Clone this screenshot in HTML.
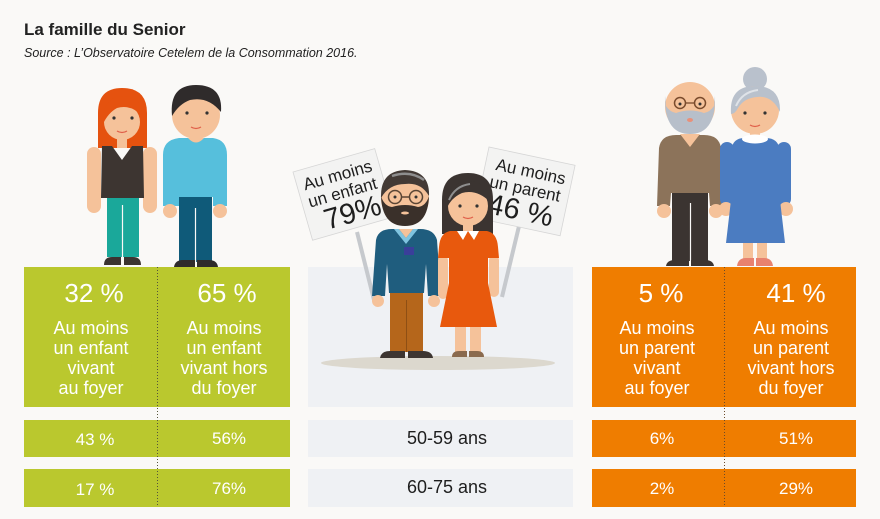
<!DOCTYPE html>
<html><head><meta charset="utf-8"><style>
html,body{margin:0;padding:0;background:#faf9f7;}
svg{display:block;}
text{font-family:"Liberation Sans",sans-serif;}
</style></head><body>
<svg width="880" height="519" viewBox="0 0 880 519" xmlns="http://www.w3.org/2000/svg">
<rect width="880" height="519" fill="#faf9f7"/>
<text x="24" y="35" font-size="17" font-weight="bold" fill="#222">La famille du Senior</text>
<text x="24" y="57" font-size="12.5" font-style="italic" fill="#222">Source : L’Observatoire Cetelem de la Consommation 2016.</text>

<!-- blocks -->
<rect x="24" y="267" width="266" height="140" fill="#bac82e"/>
<rect x="24" y="420" width="266" height="37" fill="#bac82e"/>
<rect x="24" y="469" width="266" height="38" fill="#bac82e"/>
<rect x="308" y="267" width="265" height="140" fill="#eff1f4"/>
<rect x="308" y="420" width="265" height="37" fill="#eff1f4"/>
<rect x="308" y="469" width="265" height="38" fill="#eff1f4"/>
<rect x="592" y="267" width="264" height="140" fill="#ef7d00"/>
<rect x="592" y="420" width="264" height="37" fill="#ef7d00"/>
<rect x="592" y="469" width="264" height="38" fill="#ef7d00"/>
<line x1="157.5" y1="267" x2="157.5" y2="507" stroke="#55553a" stroke-width="1" stroke-dasharray="1,2"/>
<line x1="724.5" y1="267" x2="724.5" y2="507" stroke="#6a4a2a" stroke-width="1" stroke-dasharray="1,2"/>

<!-- green text -->
<g fill="#fff" text-anchor="middle">
<text x="94" y="302" font-size="26">32 %</text>
<text x="227" y="302" font-size="26">65 %</text>
<g font-size="18">
<text x="91" y="334">Au moins</text>
<text x="91" y="354">un enfant</text>
<text x="91" y="374">vivant</text>
<text x="91" y="394">au foyer</text>
<text x="224" y="334">Au moins</text>
<text x="224" y="354">un enfant</text>
<text x="224" y="374">vivant hors</text>
<text x="224" y="394">du foyer</text>
</g>
<g font-size="17">
<text x="95" y="445">43 %</text>
<text x="229" y="444">56%</text>
<text x="95" y="495">17 %</text>
<text x="229" y="494">76%</text>
</g>
<!-- orange text -->
<text x="661" y="302" font-size="26">5 %</text>
<text x="796" y="302" font-size="26">41 %</text>
<g font-size="18">
<text x="657" y="334">Au moins</text>
<text x="657" y="354">un parent</text>
<text x="657" y="374">vivant</text>
<text x="657" y="394">au foyer</text>
<text x="791" y="334">Au moins</text>
<text x="791" y="354">un parent</text>
<text x="791" y="374">vivant hors</text>
<text x="791" y="394">du foyer</text>
</g>
<g font-size="17">
<text x="662" y="444">6%</text>
<text x="796" y="444">51%</text>
<text x="662" y="494">2%</text>
<text x="796" y="494">29%</text>
</g>
</g>
<g fill="#1e1e1e" text-anchor="middle" font-size="18">
<text x="447" y="444">50-59 ans</text>
<text x="447" y="493">60-75 ans</text>
</g>

<!-- middle scene -->
<ellipse cx="438" cy="363" rx="117" ry="7" fill="#dcd8ce"/>
<line x1="357" y1="232" x2="374" y2="300" stroke="#c6c9cd" stroke-width="4"/>
<line x1="520" y1="222" x2="502" y2="297" stroke="#c6c9cd" stroke-width="4"/>
<g transform="translate(293,172) rotate(-16)">
<rect x="0" y="0" width="85" height="71" fill="#f3f3f2" stroke="#d6d6d6" stroke-width="0.8"/>
<g fill="#1e1e1e" text-anchor="middle">
<text x="42" y="21" font-size="17">Au moins</text>
<text x="42" y="39" font-size="17">un enfant</text>
<text x="46" y="65" font-size="29">79%</text>
</g>
</g>
<g transform="translate(489,147) rotate(12)">
<rect x="0" y="0" width="88" height="72" fill="#f3f3f2" stroke="#d6d6d6" stroke-width="0.8"/>
<g fill="#1e1e1e" text-anchor="middle">
<text x="46" y="21" font-size="17">Au moins</text>
<text x="44" y="39" font-size="17">un parent</text>
<text x="44" y="65" font-size="29">46 %</text>
</g>
</g>

<!-- middle man -->
<path d="M372,296 L376,240 Q378,229 392,229 L420,229 Q434,229 437,240 L441,296 L428,296 L426,264 L424,293 L389,293 L387,264 L385,296 Z" fill="#1f5d7e"/>
<path d="M394,229 L406,244 L418,229 L413,229 L406,238 L399,229 Z" fill="#7fc4e0"/>
<path d="M399,229 L406,238 L413,229 Z" fill="#f5c29a"/>
<rect x="404" y="247" width="10" height="8" fill="#3a3f9a"/>
<circle cx="378" cy="301" r="6" fill="#f5c29a"/>
<circle cx="434" cy="301" r="6" fill="#f5c29a"/>
<rect x="390" y="293" width="33" height="59" fill="#b5661b"/>
<line x1="406.5" y1="300" x2="406.5" y2="352" stroke="#8e4f14" stroke-width="1"/>
<path d="M380,358 Q381,351 390,351 L405,351 L405,358 Z" fill="#3d3531"/>
<path d="M408,351 L423,351 Q432,351 433,358 L408,358 Z" fill="#3d3531"/>
<circle cx="405" cy="199" r="24" fill="#f5c29a"/>
<path d="M381,198 Q380,171 405,170 Q430,171 429,196 Q421,182 405,184 Q389,184 381,198 Z" fill="#433a35"/>
<path d="M392,176 Q410,170 424,180" stroke="#8e8e8e" stroke-width="2.5" fill="none"/>
<path d="M381,196 Q382,226 405,226 Q428,226 429,196 Q426,206 418,207 Q405,203 392,207 Q384,206 381,196 Z" fill="#3a302a"/>
<ellipse cx="405" cy="213" rx="4" ry="1.5" fill="#f5c29a"/>
<circle cx="395" cy="197" r="6.5" fill="none" stroke="#5a4535" stroke-width="1.5"/>
<circle cx="416" cy="197" r="6.5" fill="none" stroke="#5a4535" stroke-width="1.5"/>
<line x1="401.5" y1="197" x2="409.5" y2="197" stroke="#5a4535" stroke-width="1.5"/>
<circle cx="395" cy="197" r="1.5" fill="#333"/>
<circle cx="416" cy="197" r="1.5" fill="#333"/>

<!-- middle woman -->
<path d="M442,234 L442,200 Q442,173 468,173 Q493,173 493,200 L493,234 Z" fill="#3b3431"/>
<rect x="463" y="222" width="10" height="12" fill="#f5c29a"/>
<rect x="438" y="255" width="10" height="44" rx="5" fill="#f5c29a"/>
<rect x="489" y="255" width="10" height="42" rx="5" fill="#f5c29a"/>
<path d="M450,231 L487,231 Q497,233 498,247 L499,258 L488,258 L488,283 L497,327 L440,327 L449,283 L449,258 L438,258 L439,247 Q440,233 450,231 Z" fill="#e8590d"/>
<path d="M457,231 L468,231 L463,240 Z" fill="#fff"/>
<path d="M468,231 L479,231 L474,240 Z" fill="#fff"/>
<rect x="455" y="327" width="11" height="25" fill="#f5c29a"/>
<rect x="470" y="327" width="11" height="25" fill="#f5c29a"/>
<path d="M452,357 Q452,351 459,351 L467,351 L467,357 Z" fill="#8a6a4e"/>
<path d="M469,351 L477,351 Q484,351 484,357 L469,357 Z" fill="#8a6a4e"/>
<circle cx="468" cy="206" r="20" fill="#f5c29a"/>
<path d="M447,208 Q447,182 469,181 Q489,182 490,202 Q477,189 462,193 Q451,198 447,208 Z" fill="#3b3431"/>
<path d="M449,200 Q455,186 470,184" stroke="#8e8e8e" stroke-width="2" fill="none"/>
<circle cx="460" cy="206" r="1.6" fill="#333"/>
<circle cx="477" cy="206" r="1.6" fill="#333"/>
<path d="M463,217 Q468,220 473,217" stroke="#e0604a" stroke-width="1.3" fill="none"/>

<!-- left woman -->
<path d="M98,148 L98,113 Q98,88 122,88 Q147,88 147,113 L147,148 Z" fill="#e5520f"/>
<rect x="87" y="147" width="14" height="66" rx="7" fill="#f5c29a"/>
<rect x="143" y="147" width="14" height="66" rx="7" fill="#f5c29a"/>
<rect x="117" y="134" width="10" height="14" fill="#f5c29a"/>
<circle cx="122" cy="122" r="18" fill="#f5c29a"/>
<path d="M103,124 Q102,96 124,96 Q142,97 142,116 Q131,104 117,108 Q108,113 103,124 Z" fill="#e5520f"/>
<circle cx="114" cy="118" r="1.6" fill="#333"/>
<circle cx="132" cy="118" r="1.6" fill="#333"/>
<path d="M117,131 Q122,134 127,131" stroke="#e0604a" stroke-width="1.3" fill="none"/>
<path d="M102,146 L112,146 L122,160 L132,146 L143,146 L144,198 L101,198 Z" fill="#3d3531"/>
<rect x="107" y="198" width="32" height="59" fill="#1aa89a"/>
<line x1="122.5" y1="205" x2="122.5" y2="257" stroke="#faf9f7" stroke-width="1.2"/>
<path d="M104,265 Q104,257 112,257 L121,257 L121,265 Z" fill="#3b3431"/>
<path d="M124,257 L133,257 Q141,257 141,265 L124,265 Z" fill="#3b3431"/>

<!-- left man -->
<rect x="190" y="130" width="12" height="12" fill="#f5c29a"/>
<path d="M179,138 L213,138 Q227,140 227,155 L227,206 L213,206 L213,197 L179,197 L179,206 L163,206 L163,155 Q163,140 179,138 Z" fill="#56bfdc"/>
<path d="M188,138 Q196,147 204,138 Z" fill="#f5c29a"/>
<circle cx="170" cy="211" r="7" fill="#f5c29a"/>
<circle cx="220" cy="211" r="7" fill="#f5c29a"/>
<rect x="179" y="197" width="33" height="65" fill="#0f5a79"/>
<line x1="195.5" y1="208" x2="195.5" y2="262" stroke="#faf9f7" stroke-width="1.2"/>
<path d="M174,267 Q175,260 183,260 L195,260 L195,267 Z" fill="#2f2b2b"/>
<path d="M197,260 L209,260 Q217,260 218,267 L197,267 Z" fill="#2f2b2b"/>
<circle cx="196" cy="115" r="24" fill="#f5c29a"/>
<path d="M172,116 Q169,85 196,85 Q223,85 221,112 Q208,96 190,100 Q179,104 172,116 Z" fill="#2f2b2b"/>
<circle cx="187" cy="113" r="1.6" fill="#333"/>
<circle cx="207" cy="113" r="1.6" fill="#333"/>
<path d="M191,127 Q196,130 201,127" stroke="#e0604a" stroke-width="1.3" fill="none"/>

<!-- old man -->
<path d="M657,206 L659,148 Q661,135 676,135 L704,135 Q719,135 721,148 L723,206 L710,206 L709,193 L671,193 L670,206 Z" fill="#8c735a"/>
<path d="M680,134 L690,147 L700,134 Z" fill="#f5c29a"/>
<circle cx="664" cy="211" r="7" fill="#f5c29a"/>
<circle cx="716" cy="211" r="7" fill="#f5c29a"/>
<rect x="672" y="193" width="36" height="68" fill="#3b3431"/>
<line x1="690.5" y1="203" x2="690.5" y2="261" stroke="#faf9f7" stroke-width="1.2"/>
<path d="M666,266 Q667,260 675,260 L689,260 L689,266 Z" fill="#3b3431"/>
<path d="M691,260 L705,260 Q713,260 714,266 L691,266 Z" fill="#3b3431"/>
<circle cx="690" cy="107" r="25" fill="#f5c29a"/>
<path d="M665,96 Q664,134 690,134 Q716,134 715,96 L714,106 Q710,112 704,113 Q690,108 676,113 Q670,112 666,106 Z" fill="#b7bfca"/>
<ellipse cx="690" cy="120" rx="3" ry="2" fill="#e8907a"/>
<circle cx="680" cy="103" r="5.5" fill="none" stroke="#7a4b2c" stroke-width="1.5"/>
<circle cx="700" cy="103" r="5.5" fill="none" stroke="#7a4b2c" stroke-width="1.5"/>
<line x1="685.5" y1="103" x2="694.5" y2="103" stroke="#7a4b2c" stroke-width="1.3"/>
<circle cx="680" cy="104" r="1.5" fill="#333"/>
<circle cx="700" cy="104" r="1.5" fill="#333"/>

<!-- old woman -->
<circle cx="755" cy="79" r="12" fill="#b9c1cc"/>
<rect x="750" y="128" width="10" height="12" fill="#f5c29a"/>
<rect x="720" y="142" width="14" height="64" rx="7" fill="#4b7cc1"/>
<rect x="777" y="142" width="14" height="64" rx="7" fill="#4b7cc1"/>
<circle cx="726" cy="209" r="7" fill="#f5c29a"/>
<circle cx="786" cy="209" r="7" fill="#f5c29a"/>
<rect x="743" y="240" width="10" height="19" fill="#f5c29a"/>
<rect x="757" y="240" width="10" height="19" fill="#f5c29a"/>
<path d="M731,150 Q733,138 744,138 L766,138 Q778,138 780,150 L780,200 L785,243 L726,243 L731,200 Z" fill="#4b7cc1"/>
<ellipse cx="755" cy="139" rx="13" ry="4.5" fill="#fff"/>
<path d="M737,266 Q738,258 746,258 L754,258 L754,266 Z" fill="#e8826f"/>
<path d="M756,258 L764,258 Q772,258 773,266 L756,266 Z" fill="#e8826f"/>
<circle cx="755" cy="110" r="24" fill="#f5c29a"/>
<path d="M731,114 Q729,86 755,86 Q781,86 780,112 Q772,95 757,97 Q744,98 738,108 Q735,114 731,114 Z" fill="#b9c1cc"/>
<path d="M736,106 Q742,92 758,90" stroke="#dfe3e8" stroke-width="2" fill="none"/>
<circle cx="745" cy="113" r="1.6" fill="#333"/>
<circle cx="765" cy="113" r="1.6" fill="#333"/>
<path d="M750,125 Q755,128 760,125" stroke="#e0604a" stroke-width="1.3" fill="none"/>
</svg>
</body></html>
